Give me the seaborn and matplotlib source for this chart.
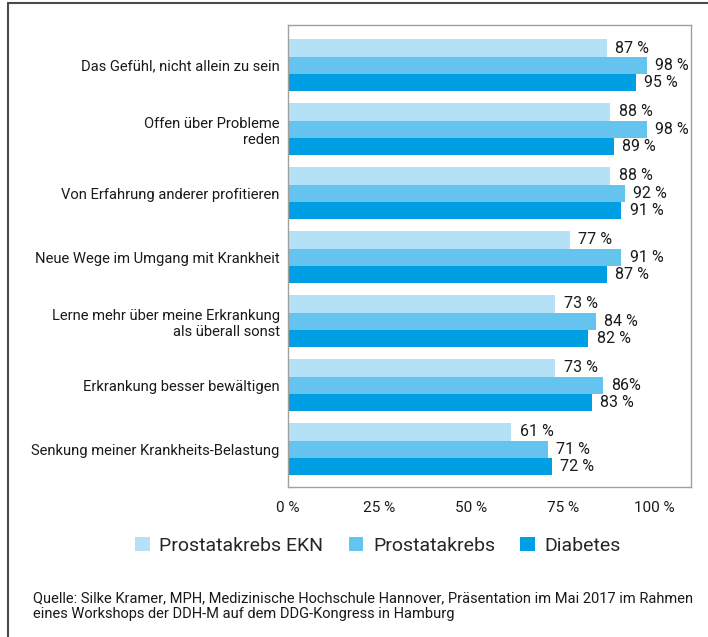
import matplotlib
matplotlib.use("Agg")
import matplotlib.pyplot as plt
from matplotlib.patches import Patch
from matplotlib.lines import Line2D
import seaborn as sns
import pandas as pd

categories = [
    "Das Gefühl, nicht allein zu sein",
    "Offen über Probleme\nreden",
    "Von Erfahrung anderer profitieren",
    "Neue Wege im Umgang mit Krankheit",
    "Lerne mehr über meine Erkrankung\nals überall sonst",
    "Erkrankung besser bewältigen",
    "Senkung meiner Krankheits-Belastung",
]
series = ["Prostatakrebs EKN", "Prostatakrebs", "Diabetes"]
ekn = [87, 88, 88, 77, 73, 73, 61]
prostata = [98, 98, 92, 91, 84, 86, 71]
diabetes = [95, 89, 91, 87, 82, 83, 72]
tick_values = [0, 25, 50, 75, 100]
tick_labels = ["0 %", "25 %", "50 %", "75 %", "100 %"]
colors = ["#b5e1f6", "#64c4ed", "#009ee2"]
source = ("Quelle: Silke Kramer, MPH, Medizinische Hochschule Hannover, Präsentation im Mai 2017 im Rahmen\n"
          "eines Workshops der DDH-M auf dem DDG-Kongress in Hamburg")

rows = []
for name, vals in zip(series, [ekn, prostata, diabetes]):
    for cat, v in zip(categories, vals):
        rows.append({"Kategorie": cat, "Gruppe": name, "Wert": v})
df = pd.DataFrame(rows)

sns.set_style("white")
plt.rcParams["font.family"] = ["Roboto", "DejaVu Sans"]

fig = plt.figure(figsize=(7.08, 6.37), dpi=100)
ax = fig.add_axes([0.4068, 0.2355, 0.976 - 0.4068, 0.9608 - 0.2355])

sns.barplot(data=df, y="Kategorie", x="Wert", hue="Gruppe", hue_order=series,
            order=categories, palette=colors, orient="h", width=0.81,
            saturation=1, ax=ax, legend=False, errorbar=None, linewidth=0)

for container, vals in zip(ax.containers, [ekn, prostata, diabetes]):
    labels = [("86%" if v == 86 else f"{v} %") for v in vals]
    ax.bar_label(container, labels=labels, padding=6, fontsize=11.5, color="#1a1a1a")

ax.set_xlim(0, 110)
ax.set_ylim(6.59, -0.63)
ax.set_xticks(tick_values)
ax.set_xticklabels(tick_labels, fontsize=11, color="#1a1a1a")
ax.set_xlabel("")
ax.set_ylabel("")
ax.tick_params(axis="y", length=0, pad=6, labelsize=10.6, labelcolor="#1a1a1a")
ax.tick_params(axis="x", length=5, width=1, color="#a0a0a0", pad=5, direction="out")
for lbl in ax.get_yticklabels():
    lbl.set_horizontalalignment("right")
for sp in ax.spines.values():
    sp.set_color("#a0a0a0")
    sp.set_linewidth(1)

handles = [Patch(facecolor=c, edgecolor="none") for c in colors]
fig.legend(handles, series, loc="center", bbox_to_anchor=(378 / 708, 1 - 546 / 637),
           ncol=3, frameon=False, fontsize=14, handlelength=0.75, handleheight=0.75,
           handletextpad=0.5, columnspacing=1.3)

fig.text(33 / 708, 1 - 606 / 637, source, fontsize=10.5, color="#1a1a1a",
         ha="left", va="center", linespacing=1.2)

# outer frame: top and left edges
fig.add_artist(Line2D([8 / 708, 1.0], [1 - 3 / 637, 1 - 3 / 637], transform=fig.transFigure,
                      color="#4a4a4a", linewidth=1.5))
fig.add_artist(Line2D([8 / 708, 8 / 708], [1 - 3 / 637, 0.0], transform=fig.transFigure,
                      color="#4a4a4a", linewidth=1.5))

fig.savefig("out.png", dpi=100)
